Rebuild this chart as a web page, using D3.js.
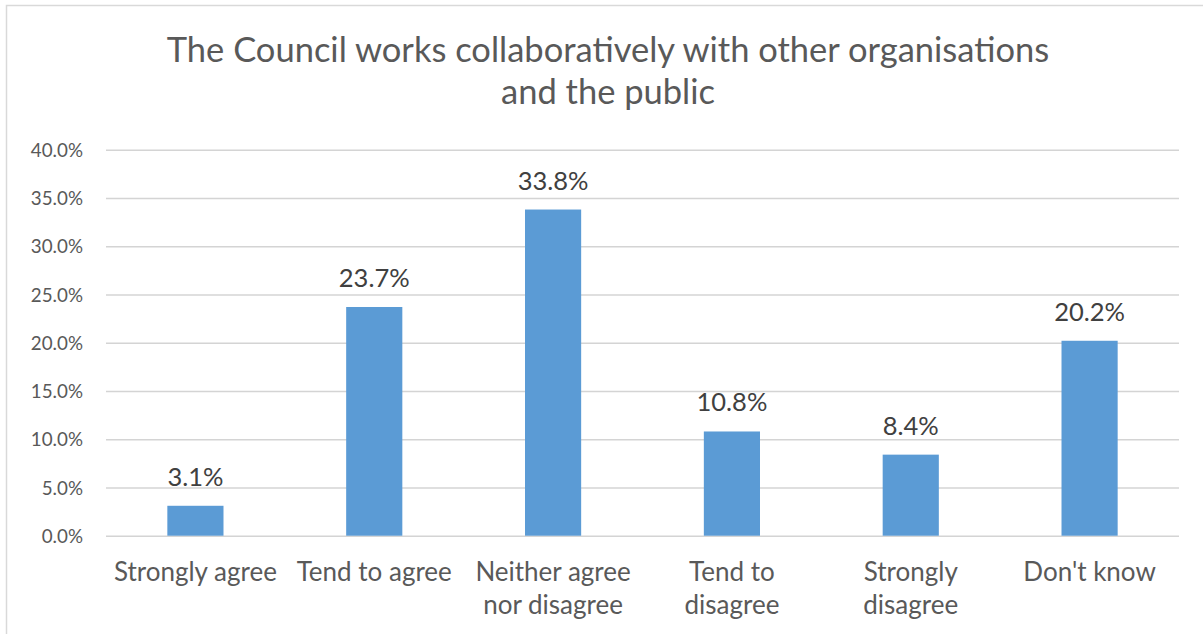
<!DOCTYPE html>
<html>
<head>
<meta charset="utf-8">
<script src="https://cdn.jsdelivr.net/npm/d3@7"></script>
<style>
  html, body { margin: 0; padding: 0; background: #fff; }
  svg { display: block; }
  text { font-family: Lato, "Open Sans", sans-serif; }
</style>
</head>
<body>
<svg id="chart" width="1203" height="634"></svg>
<script>
// Survey responses: share of respondents per answer
const categories = ["Strongly agree", "Tend to agree", "Neither agree nor disagree", "Tend to disagree", "Strongly disagree", "Don't know"];
const values = [3.1, 23.7, 33.8, 10.8, 8.4, 20.2];
const yTicks = [0, 5, 10, 15, 20, 25, 30, 35, 40];
const titleLines = ["The Council works collaboratively with other organisations", "and the public"];

const W = 1203, H = 634;
const plot = { left: 106, right: 1179, top: 149.7, bottom: 535.7 };
const svg = d3.select("#chart");

// Chart-area frame
svg.append("rect")
  .attr("x", 6.5).attr("y", 5.5)
  .attr("width", W + 10).attr("height", H + 10)
  .attr("fill", "#fff").attr("stroke", "#d9d9d9").attr("stroke-width", 1.5);

// Title
svg.append("text")
  .attr("text-anchor", "middle")
  .attr("fill", "#595959")
  .style("font-size", "34.5px")
  .selectAll("tspan").data(titleLines).join("tspan")
  .attr("x", 608)
  .attr("y", (d, i) => 61.5 + i * 42)
  .text(d => d);

const gap = 0.686;
const x = d3.scaleBand()
  .domain(categories)
  .range([plot.left, plot.right])
  .paddingInner(gap)
  .paddingOuter(gap / 2);

const y = d3.scaleLinear().domain([0, 40]).range([plot.bottom, plot.top]);

// Horizontal gridlines with value axis labels
const yAxis = d3.axisLeft(y)
  .tickValues(yTicks)
  .tickSize(-(plot.right - plot.left))
  .tickPadding(23)
  .tickFormat(d => d.toFixed(1) + "%");

const gY = svg.append("g")
  .attr("transform", `translate(${plot.left},0)`)
  .call(yAxis);
gY.select(".domain").remove();
gY.selectAll(".tick line").attr("stroke", "#d4d4d4").attr("stroke-width", 1.6);
gY.selectAll(".tick text")
  .attr("fill", "#595959")
  .style("font-size", "18.8px")
  .attr("dy", "0.36em");

// Bars
svg.append("g").selectAll("rect").data(values).join("rect")
  .attr("x", (d, i) => x(categories[i]))
  .attr("y", d => y(d))
  .attr("width", x.bandwidth())
  .attr("height", d => y(0) - y(d))
  .attr("fill", "#5b9bd5");

// Data labels above bars
svg.append("g").selectAll("text").data(values).join("text")
  .attr("x", (d, i) => x(categories[i]) + x.bandwidth() / 2)
  .attr("y", d => y(d) - 20)
  .attr("text-anchor", "middle")
  .attr("fill", "#404040")
  .style("font-size", "25.5px")
  .text(d => d.toFixed(1) + "%");

// Category axis labels, wrapped to the category width
const step = x.step();
const catG = svg.append("g");
categories.forEach(cat => {
  const t = catG.append("text")
    .attr("text-anchor", "middle")
    .attr("fill", "#595959")
    .style("font-size", "26px");
  const cx = x(cat) + x.bandwidth() / 2;
  const words = cat.split(" ");
  const lines = [];
  let line = [];
  const probe = t.append("tspan");
  words.forEach(w => {
    const trial = line.concat(w).join(" ");
    probe.text(trial);
    if (probe.node().getComputedTextLength() > step - 4 && line.length) {
      lines.push(line.join(" "));
      line = [w];
    } else {
      line.push(w);
    }
  });
  lines.push(line.join(" "));
  probe.remove();
  t.selectAll("tspan").data(lines).join("tspan")
    .attr("x", cx)
    .attr("y", (d, i) => 581 + i * 33)
    .text(d => d);
});
</script>
</body>
</html>
